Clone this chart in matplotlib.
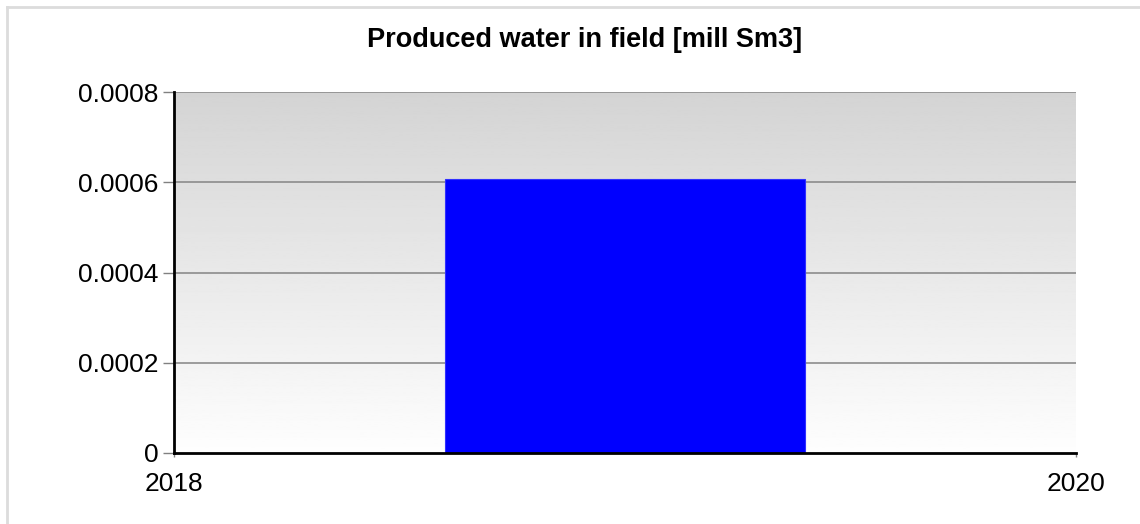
import matplotlib
matplotlib.use("Agg")
import matplotlib.pyplot as plt
import numpy as np
from matplotlib.lines import Line2D

# Data
years = [2019]
water = [0.000607]
x_ticks = [2018, 2020]
y_ticks = [0, 0.0002, 0.0004, 0.0006, 0.0008]
y_labels = ["0", "0.0002", "0.0004", "0.0006", "0.0008"]

plt.rcParams['font.family'] = ['Liberation Sans', 'DejaVu Sans']

fig = plt.figure(figsize=(11.4, 5.24), dpi=100)
W, H = 1140, 524

# light frame lines at the top and left of the chart
fig.lines.append(Line2D([6.5 / W, 6.5 / W], [0, 1 - 6.5 / H], transform=fig.transFigure,
                        color='#dcdcdc', lw=2))
fig.lines.append(Line2D([6.5 / W, 1], [1 - 6.5 / H, 1 - 6.5 / H], transform=fig.transFigure,
                        color='#dcdcdc', lw=2))

ax = fig.add_axes([174 / W, 1 - 453 / H, (1076 - 174) / W, (453 - 92) / H])

# gradient background, white at bottom to gray at top
grad = np.linspace(0.995, 0.83, 256).reshape(-1, 1)
ax.imshow(grad, cmap='gray', vmin=0, vmax=1, aspect='auto', origin='lower',
          extent=[2018, 2020, 0, 0.0008], zorder=0)

for y in y_ticks[1:]:
    ax.axhline(y, color='#8c8c8c', lw=1.2, zorder=1)

ax.bar(years, water, width=0.8, color='#0000ff', edgecolor='#3030ff', lw=0.8, zorder=2)

ax.set_xlim(2018, 2020)
ax.set_ylim(0, 0.0008)
ax.set_xticks(x_ticks)
ax.set_xticklabels([str(x) for x in x_ticks])
ax.set_yticks(y_ticks)
ax.set_yticklabels(y_labels)
ax.tick_params(axis='both', labelsize=19, colors='#808080', labelcolor='black', width=1)
ax.tick_params(axis='x', length=3, pad=11)
ax.tick_params(axis='y', length=8, pad=3)

for s in ['top', 'right']:
    ax.spines[s].set_visible(False)
ax.spines['left'].set_linewidth(2)
ax.spines['bottom'].set_linewidth(2)
ax.spines['left'].set_zorder(3)
ax.spines['bottom'].set_zorder(3)

fig.text(585 / W, 1 - 40 / H, "Produced water in field [mill Sm3]",
         ha='center', va='center', fontsize=19.5, fontweight='bold')

fig.savefig("out.png", dpi=100)
